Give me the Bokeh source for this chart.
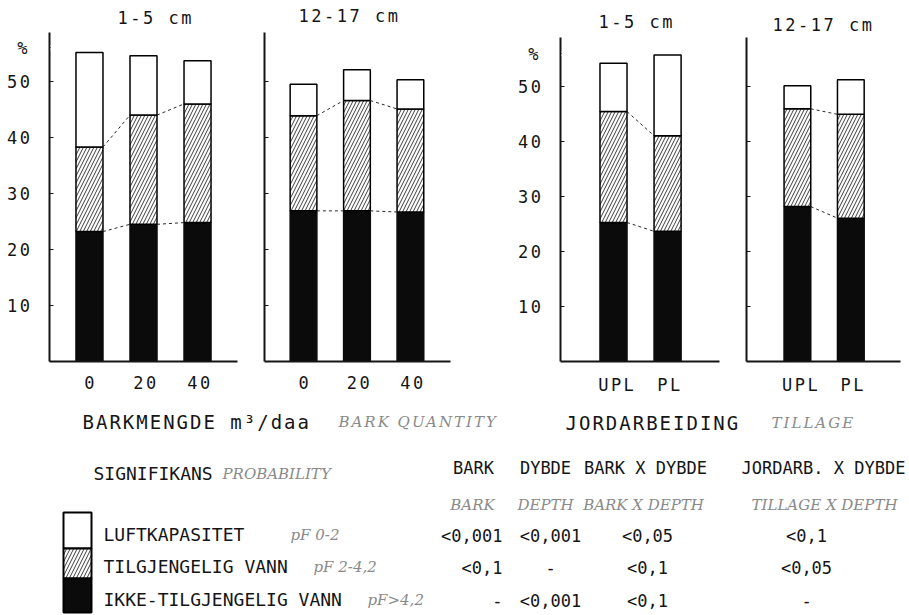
from bokeh.plotting import figure
from bokeh.layouts import column, row
from bokeh.models import (ColumnDataSource, Range1d, FixedTicker, BoxAnnotation, Label,
                          InlineStyleSheet)
from bokeh.core.properties import value
from bokeh.embed import file_html
from bokeh.resources import INLINE

# ---------------------------------------------------------------------------
# Soil pore volume fractions (% of volume), stacked bottom to top:
# ikke-tilgjengelig vann (pF>4,2), tilgjengelig vann (pF 2-4,2), luftkapasitet (pF 0-2)
# ---------------------------------------------------------------------------
bark_labels = ["0", "20", "40"]
tillage_labels = ["UPL", "PL"]
depth_titles = ["1-5 cm", "12-17 cm"]
y_ticks = [10, 20, 30, 40, 50]
unit_label = "%"

# bark quantity, 1-5 cm
bark_top_ikke = [23.2, 24.5, 24.8]
bark_top_tilgj = [15.1, 19.5, 21.2]
bark_top_luft = [16.9, 10.6, 7.7]

# bark quantity, 12-17 cm
bark_deep_ikke = [26.9, 26.9, 26.7]
bark_deep_tilgj = [17.0, 19.7, 18.4]
bark_deep_luft = [5.6, 5.5, 5.2]

# tillage, 1-5 cm
till_top_ikke = [25.3, 23.7]
till_top_tilgj = [20.2, 17.4]
till_top_luft = [8.8, 14.7]

# tillage, 12-17 cm
till_deep_ikke = [28.2, 26.1]
till_deep_tilgj = [17.8, 18.9]
till_deep_luft = [4.2, 6.3]

legend_names = ["LUFTKAPASITET", "TILGJENGELIG VANN", "IKKE-TILGJENGELIG VANN"]
legend_pf = ["pF 0-2", "pF 2-4,2", "pF>4,2"]

table_head = ["BARK", "DYBDE", "BARK X DYBDE", "JORDARB. X DYBDE"]
table_head_en = ["BARK", "DEPTH", "BARK X DEPTH", "TILLAGE X DEPTH"]
p_luft = ["<0,001", "<0,001", "<0,05", "<0,1"]
p_tilgj = ["<0,1", "-", "<0,1", "<0,05"]
p_ikke = ["-", "<0,001", "<0,1", "-"]

# ---------------------------------------------------------------------------
MONO = "DejaVu Sans Mono"
SERIF = "DejaVu Serif"
INK = "#151515"
GREY = "#8a8a8a"
HATCH = dict(hatch_pattern="/", hatch_color="#3c3c3c", hatch_scale=7, hatch_weight=1)
UNIT_AT = 56  # height on the value axis where the unit sign sits
H = 411       # height of the chart row


def spacing(px):
    return [InlineStyleSheet(css=f":host {{ letter-spacing: {px}px; }}")]


def panel(cats, ikke, tilgj, luft, title, width, bl, br, bb, x0, x1,
          px_per_unit, axis_top, show_y, title_pos, x_standoff):
    frame_h = H - bb
    y_end = frame_h / px_per_unit          # the frame reaches the top of the figure
    p = figure(width=width, height=H, output_backend="svg", toolbar_location=None,
               title_location=None,
               x_range=Range1d(x0, x1), y_range=Range1d(0, y_end),
               min_border_left=bl, min_border_right=br, min_border_top=0,
               min_border_bottom=bb, background_fill_color="white",
               border_fill_color="white", stylesheets=spacing(2.5))
    p.outline_line_color = None
    p.xgrid.visible = False
    p.ygrid.visible = False

    fw = width - bl - br
    px = (x1 - x0) / fw

    p.add_layout(Label(x=x0 + (title_pos[0] - bl) * px, y=(frame_h - title_pos[1]) / px_per_unit,
                       text=title, text_font=MONO, text_font_size="17px",
                       text_color=INK, text_align="left", text_baseline="middle"))

    xs = list(range(1, len(cats) + 1))
    t0 = list(ikke)
    t1 = [a + b for a, b in zip(ikke, tilgj)]
    t2 = [a + b for a, b in zip(t1, luft)]
    src = ColumnDataSource(dict(x=xs, t0=t0, t1=t1, t2=t2))

    p.vbar(x="x", width=0.5, bottom=0, top="t0", source=src,
           fill_color="#0b0b0b", line_color="#0b0b0b", line_width=1.5)
    p.vbar(x="x", width=0.5, bottom="t0", top="t1", source=src,
           fill_color="white", line_color="black", line_width=1.5, **HATCH)
    p.vbar(x="x", width=0.5, bottom="t1", top="t2", source=src,
           fill_color="white", line_color="black", line_width=1.5)

    # dashed connectors between the boundaries of neighbouring bars
    for level in (t0, t1):
        p.segment(x0=[x + 0.25 for x in xs[:-1]], y0=level[:-1],
                  x1=[x - 0.25 for x in xs[1:]], y1=level[1:],
                  line_color="#2a2a2a", line_width=1, line_dash="3 3")

    xa = p.xaxis[0]
    xa.ticker = FixedTicker(ticks=xs)
    xa.major_label_overrides = {x: c for x, c in zip(xs, cats)}
    xa.major_tick_in = 0
    xa.major_tick_out = 0
    xa.axis_line_width = 2
    xa.axis_line_color = INK
    xa.major_label_standoff = x_standoff
    xa.major_label_text_font = MONO
    xa.major_label_text_font_size = "17px"
    xa.major_label_text_color = INK

    ya = p.yaxis[0]
    ya.bounds = (0, axis_top)
    ya.axis_line_width = 2
    ya.axis_line_color = INK
    ya.major_tick_line_color = INK
    ya.minor_tick_line_color = INK
    ya.major_tick_in = 4
    ya.major_tick_out = 0
    ya.minor_tick_in = 4
    ya.minor_tick_out = 0
    if show_y:
        ya.ticker = FixedTicker(ticks=y_ticks + [UNIT_AT])
        ya.major_label_overrides = {UNIT_AT: unit_label}
        ya.major_label_standoff = 22
        ya.major_label_text_font = MONO
        ya.major_label_text_font_size = "17px"
        ya.major_label_text_color = INK
        # the unit sign carries no tick mark
        p.add_layout(BoxAnnotation(left=x0 + 1.2 * px, right=x0 + 7 * px,
                                   bottom=UNIT_AT - 0.45, top=UNIT_AT + 0.45,
                                   fill_color="white", fill_alpha=1, line_color=None))
    else:
        ya.ticker = FixedTicker(ticks=[], minor_ticks=y_ticks)
        ya.major_label_standoff = 2
    return p


f1 = panel(bark_labels, bark_top_ikke, bark_top_tilgj, bark_top_luft, depth_titles[0],
           250, 49, 13, 50, 0.26, 3.74, 5.6, 58.75, True, (117, 17), 14)
f2 = panel(bark_labels, bark_deep_ikke, bark_deep_tilgj, bark_deep_luft, depth_titles[1],
           250, 14, 50, 50, 0.27, 3.75, 5.6, 58.75, False, (298 - 250, 15), 14)
f3 = panel(tillage_labels, till_top_ikke, till_top_tilgj, till_top_luft, depth_titles[0],
           230, 60, 11, 46, 0.02, 2.96, 5.554, 59.05, True, (598 - 500, 22), 13)
f4 = panel(tillage_labels, till_deep_ikke, till_deep_tilgj, till_deep_luft, depth_titles[1],
           179, 16, 9, 46, 0.047, 2.93, 5.554, 59.05, False, (772 - 730, 25), 13)


def text_canvas(height, y_top, y_bottom, css_spacing):
    p = figure(width=909, height=height, output_backend="svg", toolbar_location=None,
               title_location=None,
               x_range=Range1d(0, 909), y_range=Range1d(y_bottom, y_top),
               x_axis_type=None, y_axis_type=None, min_border=0,
               background_fill_color="white", border_fill_color="white",
               stylesheets=spacing(css_spacing))
    p.outline_line_color = None
    p.xgrid.visible = False
    p.ygrid.visible = False
    return p


def put(p, x, y, txt, font=MONO, size="17px", color=INK, align="left", style="normal"):
    p.text(x=x, y=y, text=txt, text_font=value(font), text_font_size=size,
           text_color=color, text_align=align, text_baseline="middle",
           text_font_style=style)


# axis titles below the panels
fa = text_canvas(445 - H, H, 445, 2)
put(fa, [82], [421], ["BARKMENGDE m³/daa"], size="19px")
put(fa, [338], [421], ["BARK QUANTITY"], font=SERIF, size="15px", color=GREY, style="italic")
put(fa, [565], [422], ["JORDARBEIDING"], size="19px")
put(fa, [771], [422], ["TILLAGE"], font=SERIF, size="15px", color=GREY, style="italic")

# legend and significance table
fb = text_canvas(170, 445, 615, 0)
put(fb, [93], [473], ["SIGNIFIKANS"], size="18px")
put(fb, [222], [473], ["PROBABILITY"], font=SERIF, size="15px", color=GREY, style="italic")

head_x = [473, 545, 645, 823]
head_en_x = [472, 545, 643, 824]
put(fb, head_x, [467] * 4, table_head, size="17px", align="center")
put(fb, head_en_x, [504] * 4, table_head_en, font=SERIF, size="15px", color=GREY,
    align="center", style="italic")

col_x = [502, 550, 647, 806]
col_align = ["right", "center", "center", "center"]
row_y = [535, 567, 600]
for yy, vals in zip(row_y, [p_luft, p_tilgj, p_ikke]):
    for xx, al, v in zip(col_x, col_align, vals):
        put(fb, [xx], [yy], [v], size="17px", align=al)

leg_y = [534, 566, 599]
put(fb, [103] * 3, leg_y, legend_names, size="18px")
put(fb, [290, 313, 367], leg_y, legend_pf, font=SERIF, size="15px", color=GREY, style="italic")

# legend key: a miniature stacked bar
fb.quad(left=[63], right=[91], top=[512], bottom=[548], fill_color="white",
        line_color="black", line_width=2)
fb.quad(left=[63], right=[91], top=[548], bottom=[578], fill_color="white",
        line_color="black", line_width=2, **HATCH)
fb.quad(left=[63], right=[91], top=[578], bottom=[612], fill_color="#0b0b0b",
        line_color="black", line_width=2)

layout = column(row(f1, f2, f3, f4), fa, fb)

with open("out.html", "w") as fh:
    fh.write(file_html(layout, INLINE))
